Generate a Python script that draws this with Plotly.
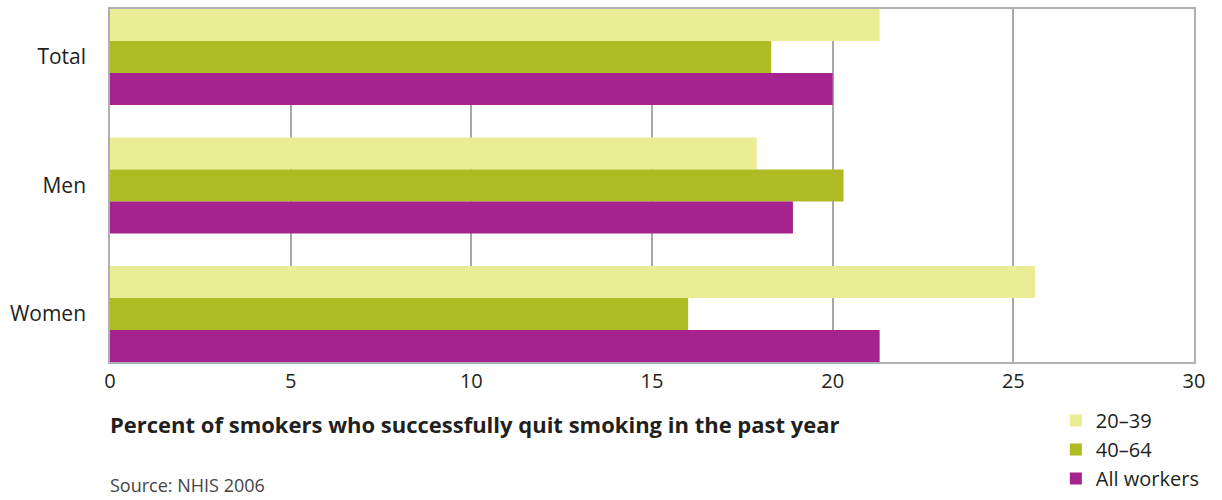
import plotly.graph_objects as go

categories = ["Total", "Men", "Women"]
series_names = ["20–39", "40–64", "All workers"]
values_20_39 = [21.3, 17.9, 25.6]
values_40_64 = [18.3, 20.3, 16.0]
values_all = [20.0, 18.9, 21.3]
colors = ["#EAEC96", "#AFBB22", "#A6228E"]
x_ticks = [0, 5, 10, 15, 20, 25, 30]

TEXT = "#231F20"
FONT = "Open Sans, Noto Sans, sans-serif"

fig = go.Figure()
for name, vals, col in zip(series_names, [values_20_39, values_40_64, values_all], colors):
    fig.add_trace(go.Bar(
        y=categories, x=vals, name=name, orientation="h",
        marker=dict(color=col, line=dict(width=0)),
    ))

fig.update_layout(
    width=1222, height=500,
    margin=dict(l=110, r=28, t=9, b=138, autoexpand=False),
    paper_bgcolor="white", plot_bgcolor="white",
    barmode="group", bargap=0.253, bargroupgap=0,
    font=dict(family=FONT, color=TEXT, size=20),
    xaxis=dict(
        range=[0, 30], tickvals=x_ticks, ticktext=[str(t) for t in x_ticks],
        showgrid=True, gridcolor="#A8A8A8", gridwidth=1.5,
        zeroline=False, showline=True, linecolor="#B0B0B0", linewidth=1.5,
        mirror=True, ticks="", tickfont=dict(size=20, color=TEXT),
        ticklabelstandoff=0,
    ),
    yaxis=dict(
        type="category", categoryorder="array", categoryarray=categories,
        range=[2.3735, -0.3735],
        showgrid=False, zeroline=False, showline=True, linecolor="#B0B0B0",
        linewidth=1.5, mirror=True, ticks="",
        tickfont=dict(size=21, color=TEXT), ticklabelstandoff=18,
    ),
    legend=dict(
        x=1.01, xanchor="right", y=0.198, yanchor="top", yref="container",
        font=dict(size=20, color=TEXT), bgcolor="rgba(0,0,0,0)",
        traceorder="normal", tracegroupgap=0, itemwidth=30,
    ),
    showlegend=True,
)

fig.add_annotation(
    text="<b>Percent of smokers who successfully quit smoking in the past year</b>",
    xref="paper", yref="paper", x=0, y=-0.128, xanchor="left", yanchor="top",
    showarrow=False, font=dict(size=22, color=TEXT, family=FONT), xshift=-2,
)
fig.add_annotation(
    text="Source: NHIS 2006",
    xref="paper", yref="paper", x=0, y=-0.31, xanchor="left", yanchor="top",
    showarrow=False, font=dict(size=18, color="#444444", family=FONT), xshift=-2,
)

fig.write_html("out.html")
